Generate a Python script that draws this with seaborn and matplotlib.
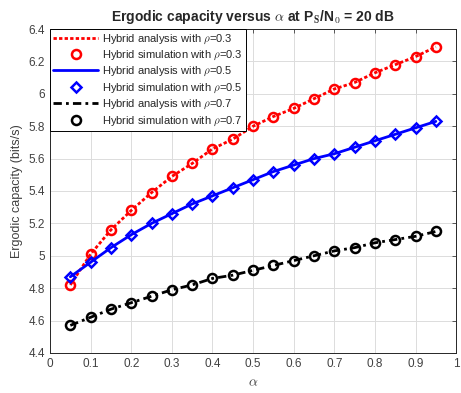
import numpy as np
import matplotlib
matplotlib.use("Agg")
import matplotlib.pyplot as plt
import seaborn as sns

# data
alpha = [0.05, 0.10, 0.15, 0.20, 0.25, 0.30, 0.35, 0.40, 0.45, 0.50,
         0.55, 0.60, 0.65, 0.70, 0.75, 0.80, 0.85, 0.90, 0.95]
cap_rho03 = [4.82, 5.01, 5.16, 5.28, 5.39, 5.49, 5.57, 5.66, 5.72, 5.80,
             5.86, 5.91, 5.97, 6.03, 6.07, 6.13, 6.18, 6.23, 6.29]
cap_rho05 = [4.87, 4.96, 5.05, 5.13, 5.20, 5.26, 5.32, 5.37, 5.42, 5.47,
             5.52, 5.56, 5.60, 5.63, 5.67, 5.71, 5.75, 5.79, 5.83]
cap_rho07 = [4.57, 4.62, 4.67, 4.71, 4.75, 4.79, 4.82, 4.86, 4.88, 4.91,
             4.94, 4.97, 5.00, 5.03, 5.05, 5.08, 5.10, 5.12, 5.15]

sns.set_style("white")
plt.rcParams['font.family'] = ['Liberation Sans', 'DejaVu Sans']
plt.rcParams['mathtext.fontset'] = 'cm'

fig = plt.figure(figsize=(4.61, 3.93), dpi=100)
ax = fig.add_axes([0.1085, 0.102, 0.881, 0.824])

axis_col = '#262626'

# analysis curves + simulation markers
sns.lineplot(x=alpha, y=cap_rho03, ax=ax, color='red', linestyle=(0, (1.2, 0.8)), lw=2,
             label=r'Hybrid analysis with $\rho$=0.3')
sns.lineplot(x=alpha, y=cap_rho03, ax=ax, color='red', linestyle='none', marker='o',
             markersize=6.5, markerfacecolor='none', markeredgecolor='red', markeredgewidth=1.8,
             label=r'Hybrid simulation with $\rho$=0.3')
sns.lineplot(x=alpha, y=cap_rho05, ax=ax, color='blue', linestyle='-', lw=2,
             label=r'Hybrid analysis with $\rho$=0.5')
sns.lineplot(x=alpha, y=cap_rho05, ax=ax, color='blue', linestyle='none', marker='D',
             markersize=5.5, markerfacecolor='none', markeredgecolor='blue', markeredgewidth=1.8,
             label=r'Hybrid simulation with $\rho$=0.5')
sns.lineplot(x=alpha, y=cap_rho07, ax=ax, color='black', linestyle=(0, (3, 1.5, 1, 1.5)), lw=2,
             label=r'Hybrid analysis with $\rho$=0.7')
sns.lineplot(x=alpha, y=cap_rho07, ax=ax, color='black', linestyle='none', marker='o',
             markersize=6.5, markerfacecolor='none', markeredgecolor='black', markeredgewidth=1.8,
             label=r'Hybrid simulation with $\rho$=0.7')

ax.set_xlim(0, 1)
ax.set_ylim(4.4, 6.4)
ax.set_xticks(np.arange(0, 1.01, 0.1))
ax.set_xticklabels(['0', '0.1', '0.2', '0.3', '0.4', '0.5', '0.6', '0.7', '0.8', '0.9', '1'])
ax.set_yticks(np.arange(4.4, 6.41, 0.2))
ax.set_yticklabels(['4.4', '4.6', '4.8', '5', '5.2', '5.4', '5.6', '5.8', '6', '6.2', '6.4'])
ax.grid(True, color='#dcdcdc', lw=0.7)
ax.tick_params(direction='in', top=True, right=True, length=3, labelsize=8.5,
               colors='#404040', width=0.6)
for s in ax.spines.values():
    s.set_color(axis_col)
    s.set_linewidth(0.7)

ax.set_xlabel(r'$\alpha$', fontsize=10, color='#404040')
ax.set_ylabel('Ergodic capacity (bits/s)', fontsize=9, color='#404040')
ax.set_title(r'Ergodic capacity versus $\alpha$ at P$_\mathbf{S}$/N$_\mathbf{0}$ = 20 dB',
             fontsize=10, fontweight='bold', pad=6)

leg = ax.legend(loc='upper left', fontsize=8, frameon=True, fancybox=False,
                handlelength=4.0, labelspacing=0.28, borderpad=0.3,
                borderaxespad=0.0, handletextpad=0.4)
leg.get_frame().set_edgecolor('black')
leg.get_frame().set_linewidth(0.7)
leg.get_frame().set_alpha(1)

fig.savefig('out.png', dpi=100)
